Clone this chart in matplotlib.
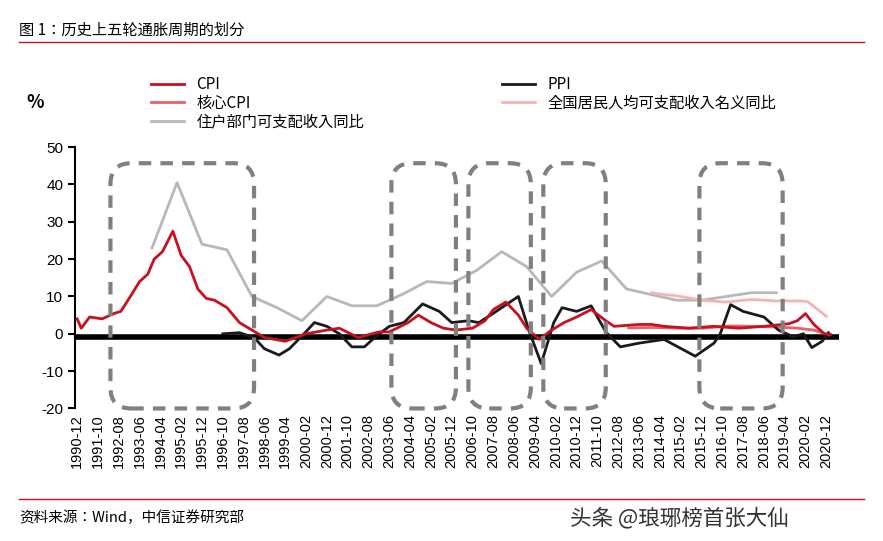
import numpy as np
import pandas as pd
import matplotlib.pyplot as plt
from matplotlib.patches import FancyBboxPatch

plt.rcParams['font.family'] = ['Noto Sans CJK SC', 'Noto Sans CJK JP', 'DejaVu Sans']
plt.rcParams['axes.unicode_minus'] = False

# anchor values (month -> %)
cpi_dates = ['1990-12','1991-02','1991-06','1991-12','1992-06','1992-09','1993-01','1993-06','1993-10',
             '1994-01','1994-05','1994-10','1995-02','1995-06','1995-10','1996-02','1996-06','1996-12',
             '1997-06','1997-12','1998-06','1999-04','2000-02','2000-12','2001-06','2002-03','2003-01',
             '2003-06','2004-03','2004-08','2005-02','2005-08','2006-02','2006-10','2007-04','2007-08',
             '2008-02','2008-08','2008-12','2009-06','2009-12','2010-06','2010-12','2011-07','2012-02',
             '2012-06','2013-06','2013-12','2014-06','2015-06','2016-06','2017-06','2018-06','2019-06',
             '2019-10','2020-02','2020-06','2020-11','2021-02']
cpi_vals = [4, 1.5, 4.5, 4, 5.5, 6, 9.5, 14, 16, 20, 22, 27.5, 21, 18, 12, 9.5, 9, 7,
            3, 1, -1, -2, 0, 1, 1.5, -1, 0.5, 0.5, 3, 5, 3, 1.5, 1, 1.5, 3.5, 6.5,
            8.5, 5, 1.5, -1.5, 1, 3, 4.5, 6.5, 3.5, 2, 2.5, 2.5, 2, 1.5, 2, 1.5, 2, 2.7,
            3.5, 5.4, 2.5, 0, -0.2]

ppi_dates = ['1996-10','1997-06','1998-01','1998-06','1999-01','1999-06','2000-01','2000-06','2000-12',
             '2001-06','2001-12','2002-06','2002-12','2003-06','2004-01','2004-10','2005-06','2005-12',
             '2006-08','2007-01','2007-08','2008-08','2009-01','2009-07','2010-01','2010-05','2010-12',
             '2011-07','2012-02','2012-09','2013-06','2014-06','2015-09','2016-06','2016-09','2017-02',
             '2017-08','2018-06','2019-01','2019-08','2020-01','2020-05','2020-10','2021-01']
ppi_vals = [0, 0.3, -1, -4, -5.7, -4, 0, 3, 2, 0, -3.5, -3.5, -0.5, 2, 3, 8, 6, 3,
            3.5, 3, 5.5, 10, 1, -8, 3, 7, 6, 7.5, 0.5, -3.5, -2.5, -1.5, -6, -2.5, 0, 7.8,
            6, 4.5, 1, -0.8, 0, -3.7, -2, 0.3]

core_dates = ['2013-01','2014-01','2015-01','2016-01','2017-01','2018-01','2019-01','2019-10','2020-06','2021-01']
core_vals = [1.6, 1.7, 1.5, 1.5, 2.1, 2.0, 1.8, 1.5, 1.0, -0.3]

nat_dates = ['2013-12','2014-06','2014-12','2015-12','2016-12','2017-12','2018-12','2019-12','2020-03','2020-12']
nat_vals = [11, 10.5, 10.2, 9, 8.5, 9.2, 8.8, 8.8, 8.6, 4.7]

hh_dates = ['1993-12','1994-12','1995-12','1996-12','1997-12','1998-12','1999-12','2000-12','2001-12',
            '2002-12','2003-12','2004-12','2005-12','2006-12','2007-12','2008-12','2009-12','2010-12',
            '2011-12','2012-12','2013-12','2014-12','2015-12','2016-12','2017-12','2018-12']
hh_vals = [23, 40.5, 24, 22.5, 10, 7, 3.5, 10, 7.5, 7.5, 10.5, 14, 13.5, 17, 22, 18, 10, 16.5,
           19.5, 12, 10.5, 9, 9, 10, 11, 11]

boxes = [('1992-04','1998-01'), ('2003-07','2006-02'), ('2006-08','2009-02'), ('2009-08','2012-02'), ('2015-11','2019-03')]

def to_m(ds):
    d = pd.to_datetime(ds)
    return (d.year - 1990) * 12 + d.month - 12

fig = plt.figure(figsize=(8.83, 5.41), dpi=100)
ax = fig.add_axes([0.085, 0.245, 0.865, 0.483])

ax.plot(to_m(cpi_dates), cpi_vals, color='#c8101e', lw=2, label='CPI', zorder=4)
ax.plot(to_m(core_dates), core_vals, color='#e8606a', lw=2, label='核心CPI', zorder=3)
ax.plot(to_m(hh_dates), hh_vals, color='#b8b8b8', lw=2, label='住户部门可支配收入同比', zorder=2)
ax.plot(to_m(ppi_dates), ppi_vals, color='#1a1a1a', lw=2, label='PPI', zorder=3)
ax.plot(to_m(nat_dates), nat_vals, color='#f4b4b4', lw=2, label='全国居民人均可支配收入名义同比', zorder=2)
ax.axhline(-0.8, color='black', lw=4, zorder=1)

for a, b in boxes:
    x0, x1 = to_m(a), to_m(b)
    p = FancyBboxPatch((x0, -20), x1 - x0, 65.7, boxstyle='round,pad=0,rounding_size=10',
                       mutation_aspect=0.56, fill=False, ec='#808080', lw=3, ls=(0, (3, 2.2)),
                       zorder=5, clip_on=False)
    ax.add_patch(p)

ax.set_xlim(-1, 366)
ax.set_ylim(-20, 50)
ax.set_yticks(range(-20, 51, 10))
ticks = pd.date_range('1990-12-01', '2020-12-01', freq='10MS')
ax.set_xticks(to_m(list(ticks.strftime('%Y-%m'))))
ax.set_xticklabels(ticks.strftime('%Y-%m'), rotation=90, fontsize=10.5, fontname='Liberation Sans')
ax.tick_params(axis='x', length=0, pad=4)
ax.tick_params(axis='y', direction='out', length=5, width=1.5, labelsize=11)
for l in ax.get_yticklabels():
    l.set_fontname('Liberation Sans')
for s in ['top', 'right', 'bottom']:
    ax.spines[s].set_visible(False)
ax.spines['left'].set_linewidth(1.5)

fig.legend(loc='upper left', bbox_to_anchor=(0.155, 0.885),
           ncol=2, frameon=False, fontsize=11, columnspacing=9, handlelength=2.2, labelspacing=0.1)
fig.text(0.03, 0.8, '%', fontsize=13, fontweight='bold')

fig.text(0.022, 0.935, '图 1：历史上五轮通胀周期的划分', fontsize=11)
fig.add_artist(plt.Line2D([0.022, 0.978], [0.922, 0.922], color='#c8101e', lw=1))
fig.add_artist(plt.Line2D([0.022, 0.978], [0.078, 0.078], color='#c8101e', lw=1))
fig.text(0.022, 0.035, '资料来源：Wind，中信证券研究部', fontsize=10.5)
fig.text(0.645, 0.03, '头条 @琅琊榜首张大仙', fontsize=15.5, color='#333333')

fig.savefig('out.png', dpi=100)
